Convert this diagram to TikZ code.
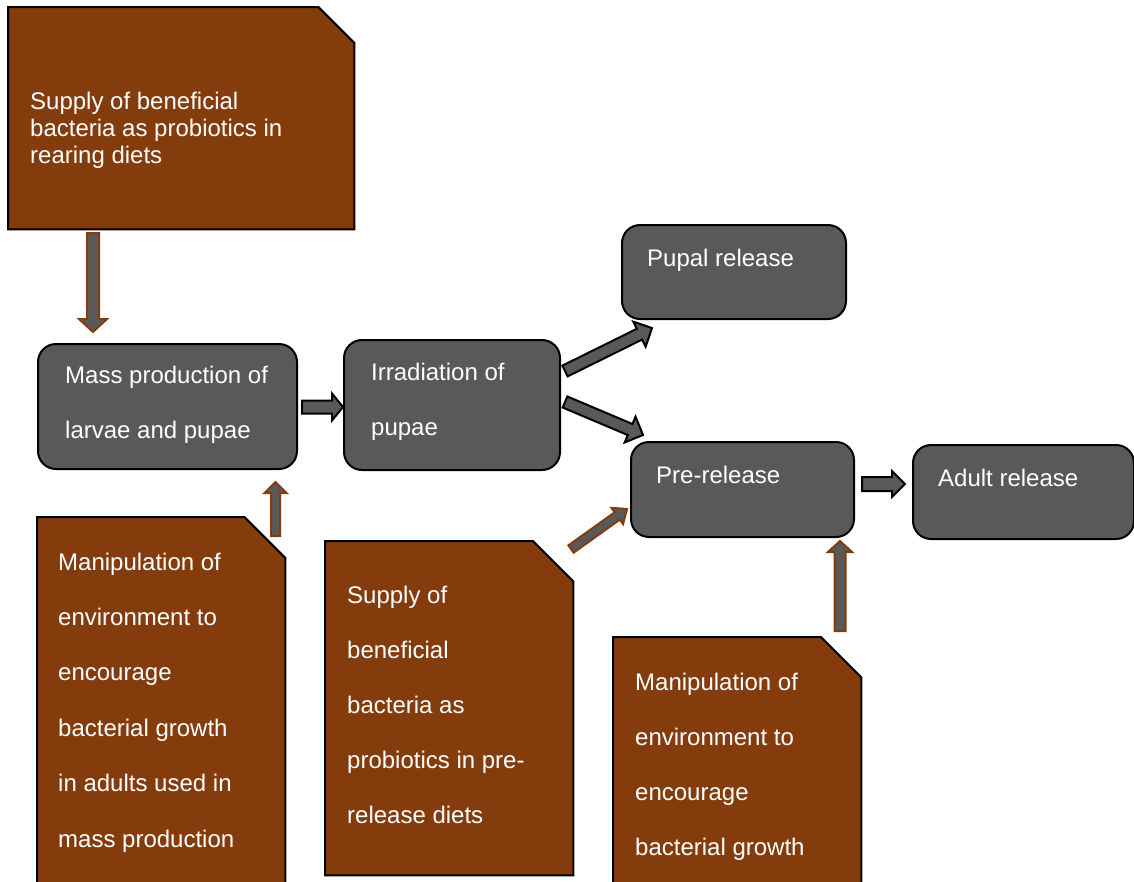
\documentclass[tikz,border=0pt]{standalone}
\usepackage{fontspec}
\setmainfont{Liberation Sans}
\usetikzlibrary{calc}
\definecolor{rust}{HTML}{843C0C}
\definecolor{slate}{HTML}{595959}
\tikzset{
  stage/.style={draw=black, line width=2pt, fill=slate, rounded corners=18pt,
    inner sep=0pt, anchor=north west},
  note/.style={inner sep=0pt, anchor=north west},
  noteshape/.style={draw=black, line width=2pt, fill=rust, line join=miter},
  words/.style={text=white, inner sep=0pt, anchor=base west},
  darkarrow/.style={draw=black, line width=2pt, fill=slate, line join=miter},
  rustarrow/.style={draw=rust, line width=2pt, fill=slate, line join=miter},
}
% note card with a cut top-right corner: #1 node name, #2 cut size
\newcommand\notecard[2]{%
  \filldraw[noteshape] (#1.north west) -- ([xshift=-#2]#1.north east)
    -- ([yshift=-#2]#1.north east) -- (#1.south east) -- (#1.south west) -- cycle;}
% block arrow: #1 style, #2 tail, #3 tip, #4 half body, #5 half head, #6 head length
\newcommand\blockarrow[6]{%
  \filldraw[#1] ($(#2)!#4!-90:(#3)$)
    -- ($(#3)!#6!(#2)!#4!90:(#2)$)
    -- ($(#3)!#6!(#2)!#5!90:(#2)$)
    -- (#3)
    -- ($(#3)!#6!(#2)!#5!-90:(#2)$)
    -- ($(#3)!#6!(#2)!#4!-90:(#2)$)
    -- ($(#2)!#4!90:(#3)$) -- cycle;}
% stacked lines with a fixed baseline distance
\newcommand\lines[2]{\parbox[t]{280pt}{\fontsize{24}{#1}\selectfont\raggedright #2}}
\begin{document}
\begin{tikzpicture}[x=1pt,y=-1pt]
  \useasboundingbox (0,0) rectangle (1134,881);

  % brown notes
  \node[note, minimum width=346pt, minimum height=222pt] (rear) at (8,7) {};
  \node[note, minimum width=248pt, minimum height=390pt] (envmass) at (37,517) {};
  \node[note, minimum width=248pt, minimum height=334pt] (prediet) at (325,541) {};
  \node[note, minimum width=248pt, minimum height=270pt] (envpre) at (613,637) {};
  \notecard{rear}{36pt}
  \notecard{envmass}{41pt}
  \notecard{prediet}{40.5pt}
  \notecard{envpre}{40.5pt}

  % process stages
  \node[stage, minimum width=259pt, minimum height=125pt] (mass) at (37,343) {};
  \node[stage, minimum width=216pt, minimum height=130pt] (irr) at (343,339) {};
  \node[stage, minimum width=224pt, minimum height=94pt] (pupal) at (621,224) {};
  \node[stage, minimum width=223pt, minimum height=95pt] (pre) at (630,441) {};
  \node[stage, minimum width=221pt, minimum height=94pt] (adult) at (912,444) {};

  % texts
  \node[words] (rear-t) at (30,109) {\lines{27}{Supply of beneficial\\bacteria as probiotics in\\rearing diets}};
  \node[words] (mass-t) at (65,383) {\lines{55}{Mass production of\\larvae and pupae}};
  \node[words] (irr-t) at (371,380) {\lines{55}{Irradiation of\\pupae}};
  \node[words] (pupal-t) at (647,266) {\lines{55}{Pupal release}};
  \node[words] (pre-t) at (656,483) {\lines{55}{Pre-release}};
  \node[words] (adult-t) at (938,486) {\lines{55}{Adult release}};
  \node[words] (envmass-t) at (58,570) {\lines{55.4}{Manipulation of\\environment to\\encourage\\bacterial growth\\in adults used in\\mass production}};
  \node[words] (prediet-t) at (347,603) {\lines{55}{Supply of\\beneficial\\bacteria as\\probiotics in pre-\\release diets}};
  \node[words] (envpre-t) at (635,690) {\lines{55}{Manipulation of\\environment to\\encourage\\bacterial growth}};

  % connector ends
  \coordinate (a1s) at (93,233);   \coordinate (a1e) at (93,332);
  \coordinate (a2s) at (275.5,536); \coordinate (a2e) at (275.5,482);
  \coordinate (a3s) at (302,407);  \coordinate (a3e) at (343,407);
  \coordinate (a4s) at (565,371);  \coordinate (a4e) at (652,328);
  \coordinate (a5s) at (565,402);  \coordinate (a5e) at (643,435);
  \coordinate (a6s) at (862,484);  \coordinate (a6e) at (905,484);
  \coordinate (a7s) at (571,549);  \coordinate (a7e) at (627,509);
  \coordinate (a8s) at (840,631);  \coordinate (a8e) at (840,541);

  % flow arrows
  \blockarrow{rustarrow}{a1s}{a1e}{6pt}{14pt}{13pt}
  \blockarrow{rustarrow}{a2s}{a2e}{4.5pt}{11pt}{11pt}
  \blockarrow{darkarrow}{a3s}{a3e}{6.5pt}{13.5pt}{11pt}
  \blockarrow{darkarrow}{a4s}{a4e}{6pt}{14pt}{14pt}
  \blockarrow{darkarrow}{a5s}{a5e}{6pt}{14pt}{14pt}
  \blockarrow{darkarrow}{a6s}{a6e}{7pt}{13pt}{13pt}
  \blockarrow{rustarrow}{a7s}{a7e}{4.5pt}{10pt}{12pt}
  \blockarrow{rustarrow}{a8s}{a8e}{5.5pt}{12pt}{11pt}
\end{tikzpicture}
\end{document}
